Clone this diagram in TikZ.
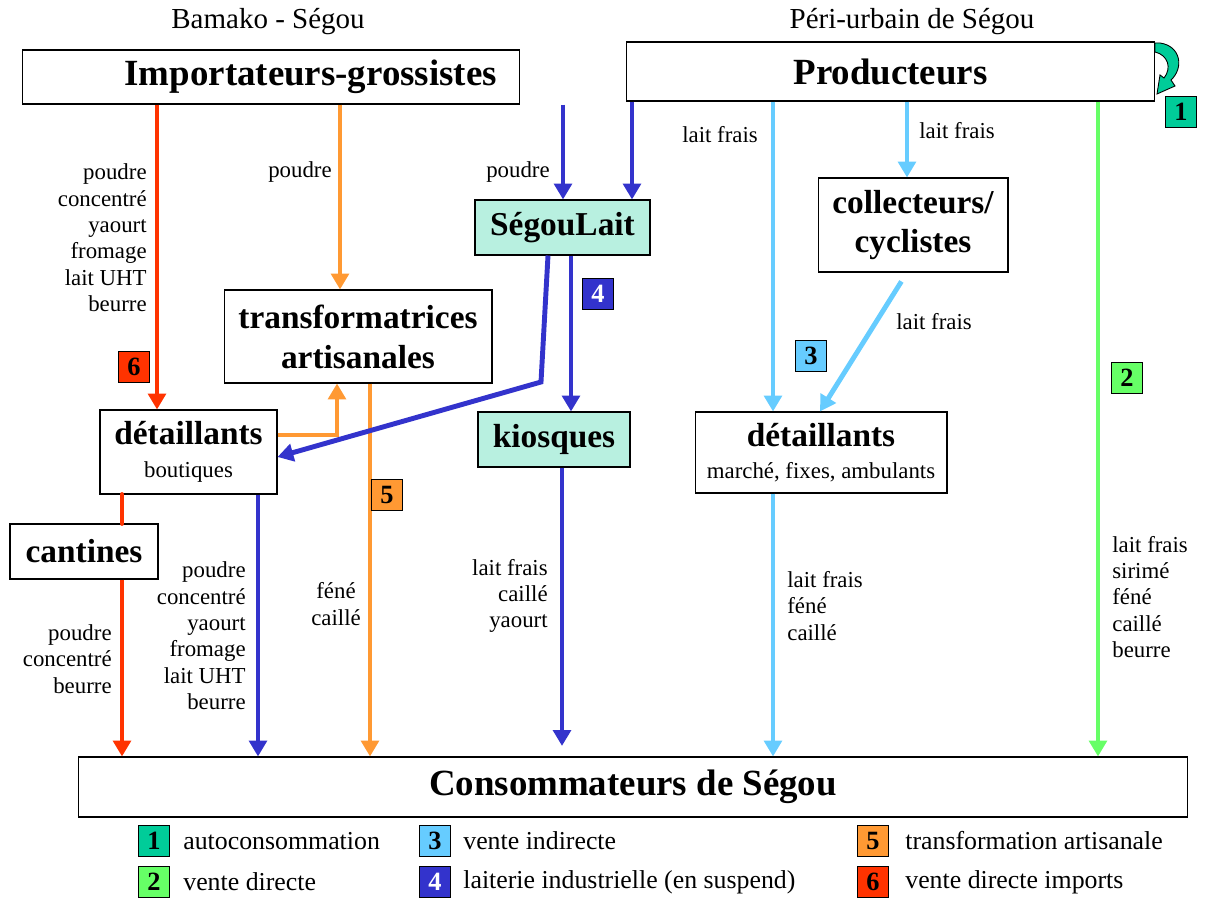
\documentclass[tikz,border=0pt]{standalone}
\usepackage{fontspec}
\setmainfont{Liberation Serif}
\usetikzlibrary{arrows.meta}

\definecolor{rouge}{HTML}{FF3300}
\definecolor{orange}{HTML}{FF9933}
\definecolor{bleu}{HTML}{3333CC}
\definecolor{bleuclair}{HTML}{66CCFF}
\definecolor{vert}{HTML}{66FF66}
\definecolor{turquoise}{HTML}{00CC99}
\definecolor{aqua}{HTML}{B8F0E0}

\newcommand{\grand}{\fontsize{21}{24}\selectfont\bfseries}
\newcommand{\moyen}{\fontsize{19}{22.7}\selectfont\bfseries}
\newcommand{\petit}{\fontsize{13}{15}\selectfont}

\tikzset{
  boite/.style={draw, line width=0.6pt, inner sep=0pt, align=center},
  flux/.style={line width=2.8pt, -{Triangle[length=9pt,width=10pt]}},
  pastille/.style={draw, line width=0.6pt, minimum size=17.6pt, inner sep=0pt,
                   font=\fontsize{15}{15}\selectfont\bfseries},
  etiq/.style={font=\petit, inner sep=0pt},
  legende/.style={anchor=west, inner sep=0pt, font=\fontsize{14.7}{16}\selectfont},
}

\begin{document}
\begin{tikzpicture}[x=0.02cm, y=-0.02cm]
    \useasboundingbox (0,0) rectangle (1207,901);

    % zones
    \node[font=\fontsize{16.5}{18}\selectfont] (bamako) at (268,22) {Bamako - Ségou};
    \node[font=\fontsize{16.5}{18}\selectfont] (peri) at (912,22) {Péri-urbain de Ségou};

    % acteurs
    \node[boite, text width=9.04cm, inner xsep=0.46cm, align=right,
          minimum height=1.08cm, font=\grand] (imp) at (271,77) {Importateurs-grossistes};
    \node[boite, minimum width=10.58cm, minimum height=1.18cm, font=\grand]
         (prod) at (890.5,71.5) {Producteurs};
    \node[boite, fill=aqua, minimum width=3.5cm, minimum height=1.1cm, font=\moyen]
         (segou) at (562.5,227.5) {SégouLait};
    \node[boite, minimum width=3.8cm, minimum height=1.88cm, font=\moyen]
         (coll) at (913,225) {collecteurs/\\cyclistes};
    \node[boite, minimum width=5.36cm, minimum height=1.86cm, font=\moyen]
         (trans) at (358,336.5) {transformatrices\\artisanales};
    \node[boite, minimum width=3.54cm, minimum height=1.68cm]
         (detg) at (188.5,452) {{\moyen détaillants}\\[7pt]{\petit boutiques}};
    \node[boite, fill=aqua, minimum width=3.04cm, minimum height=1.1cm, font=\moyen]
         (kiosk) at (554,439.5) {kiosques};
    \node[boite, minimum width=5.04cm, minimum height=1.62cm]
         (detd) at (821,452.5) {{\moyen détaillants}\\[6pt]{\petit marché, fixes, ambulants}};
    \node[boite, minimum width=2.96cm, minimum height=1.1cm, font=\moyen]
         (cant) at (84,551.5) {cantines};
    \node[boite, minimum width=22.2cm, minimum height=1.2cm, font=\grand]
         (cons) at (633,787) {Consommateurs de Ségou};

    % 6 : vente directe imports
    \draw[flux, rouge] (imp.south -| 157,0) -- (detg.north -| 157,0);
    \draw[rouge, line width=2.8pt, line cap=round] (detg.south -| 122,0) -- (cant.north -| 122,0);
    \draw[flux, rouge] (cant.south -| 122,0) -- (cons.north -| 122,0);

    % 5 : transformation artisanale
    \draw[flux, orange] (imp.south -| 340,0) -- (trans.north -| 340,0);
    \draw[flux, orange] (detg.east |- 0,435) -| (trans.south -| 337,0);
    \draw[flux, orange] (trans.south -| 370,0) -- (cons.north -| 370,0);

    % 4 : laiterie industrielle
    \coordinate (coude) at (541,382);
    \draw[flux, bleu] (imp.south -| 563,0) -- (segou.north -| 563,0);
    \draw[flux, bleu] (prod.south -| 632,0) -- (segou.north -| 632,0);
    \draw[flux, bleu] (segou.south -| 548,0) -- (coude) -- (detg.east |- 0,457);
    \draw[flux, bleu] (segou.south -| 571,0) -- (kiosk.north -| 571,0);
    \draw[flux, bleu, shorten >=6pt] (kiosk.south -| 562,0) -- (cons.north -| 562,0);
    \draw[flux, bleu] (detg.south -| 258,0) -- (cons.north -| 258,0);

    % 3 : vente indirecte
    \draw[flux, bleuclair] (prod.south -| 773,0) -- (detd.north -| 773,0);
    \draw[flux, bleuclair] (prod.south -| 907,0) -- (coll.north -| 907,0);
    \draw[flux, bleuclair, shorten <=6pt] (coll.south -| 907,0) -- (detd.north -| 820,0);
    \draw[flux, bleuclair] (detd.south -| 773,0) -- (cons.north -| 773,0);

    % 2 : vente directe
    \draw[flux, vert] (prod.south -| 1098,0) -- (cons.north -| 1098,0);

    % 1 : autoconsommation
    \filldraw[fill=turquoise, draw=black, line width=0.5pt]
      (1155,43) -- (1160,43) .. controls (1181,46) and (1184,68) .. (1171,80)
      -- (1175,86) -- (1157,94) -- (1160,75) -- (1164,78)
      .. controls (1172,68) and (1168,55) .. (1155,52) -- cycle;

    % produits
    \node[etiq, anchor=east, align=right] (pr1) at (147,238)
         {poudre\\concentré\\yaourt\\fromage\\lait UHT\\beurre};
    \node[etiq, anchor=east, align=right] (pr2) at (112,659) {poudre\\concentré\\beurre};
    \node[etiq] (po1) at (300,172) {poudre};
    \node[etiq, align=center] (po2) at (336,604) {féné\\caillé};
    \node[etiq] (pb1) at (518,172) {poudre};
    \node[etiq, anchor=east, align=right] (pb2) at (548,596) {lait frais\\caillé\\yaourt};
    \node[etiq, anchor=east, align=right] (pb3) at (246,636)
         {poudre\\concentré\\yaourt\\fromage\\lait UHT\\beurre};
    \node[etiq] (pc1) at (720,135) {lait frais};
    \node[etiq] (pc2) at (957,131) {lait frais};
    \node[etiq] (pc3) at (934,322) {lait frais};
    \node[etiq, anchor=west, align=left] (pc4) at (787,606) {lait frais\\féné\\caillé};
    \node[etiq, anchor=west, align=left] (pv1) at (1112,597)
         {lait frais\\sirimé\\féné\\caillé\\beurre};

    % pastilles
    \node[pastille, fill=turquoise] (n1) at (1181,112) {1};
    \node[pastille, fill=vert] (n2) at (1127,378) {2};
    \node[pastille, fill=bleuclair] (n3) at (811,356) {3};
    \node[pastille, fill=bleu, text=white] (n4) at (598,294) {4};
    \node[pastille, fill=orange] (n5) at (387,495) {5};
    \node[pastille, fill=rouge] (n6) at (134,367) {6};

    % légende
    \node[pastille, fill=turquoise] (l1) at (154,841) {1};
    \node[legende] (t1) at (183,841) {autoconsommation};
    \node[pastille, fill=vert] (l2) at (154,882) {2};
    \node[legende] (t2) at (183,882) {vente directe};
    \node[pastille, fill=bleuclair] (l3) at (435,841) {3};
    \node[legende] (t3) at (463,841) {vente indirecte};
    \node[pastille, fill=bleu, text=white] (l4) at (435,882) {4};
    \node[legende] (t4) at (463,882) {laiterie industrielle (en suspend)};
    \node[pastille, fill=orange] (l5) at (873,841) {5};
    \node[legende] (t5) at (905,841) {transformation artisanale};
    \node[pastille, fill=rouge] (l6) at (873,882) {6};
    \node[legende] (t6) at (905,882) {vente directe imports};
  \end{tikzpicture}
\end{document}
